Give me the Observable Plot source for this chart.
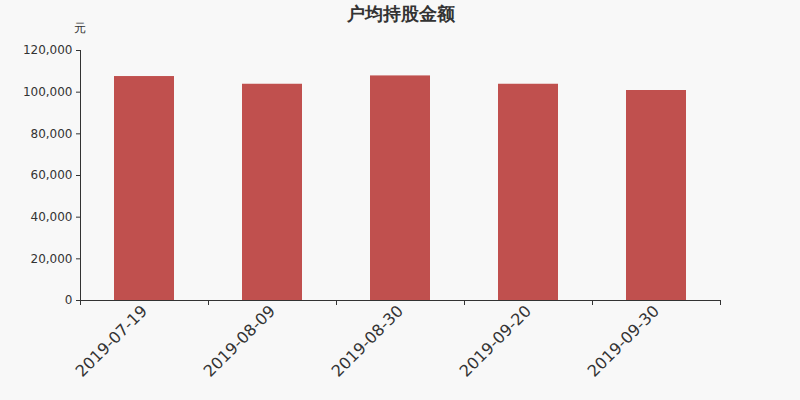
<!DOCTYPE html>
<html>
<head>
<meta charset="utf-8">
<script src="https://cdn.jsdelivr.net/npm/d3@7"></script>
<script src="https://cdn.jsdelivr.net/npm/@observablehq/plot@0.6"></script>
<style>
html,body{margin:0;padding:0;background:#f8f8f8;}
#chart{position:relative;width:800px;height:400px;}
</style>
</head>
<body>
<div id="chart"></div>
<script>
const dates = ["2019-07-19", "2019-08-09", "2019-08-30", "2019-09-20", "2019-09-30"];
const values = [107500, 103800, 107800, 103800, 100800];
const yTicks = [0, 20000, 40000, 60000, 80000, 100000, 120000];
const title = "户均持股金额";
const unit = "元";

const data = dates.map((d, i) => ({date: d, value: values[i]}));
const fmt = d3.format(",");
const font = "DejaVu Sans, sans-serif";

const chart = Plot.plot({
  width: 800,
  height: 400,
  marginTop: 50,
  marginRight: 80,
  marginBottom: 100,
  marginLeft: 80,
  style: {background: "#f8f8f8", fontFamily: font, color: "#333"},
  x: {domain: dates, paddingInner: 0.53125, paddingOuter: 0.265625, label: null},
  y: {domain: [0, 120000], ticks: yTicks, label: null},
  marks: [
    Plot.barY(data, {x: "date", y: "value", fill: "#c0504e"}),
    Plot.axisY({ticks: yTicks, tickFormat: fmt, tickSize: 4, tickPadding: 4, fontSize: 12, stroke: "#333", fill: "#333", label: null}),
    Plot.axisX({tickSize: 0, tickRotate: -45, fontSize: 16, tickPadding: 8, fill: "#333", label: null}),
    Plot.ruleY([0], {stroke: "#333"}),
    Plot.ruleX([dates[0]], {y1: 0, y2: 120000, dx: -64, stroke: "#333"}),
    Plot.ruleX(dates, {y1: 0, y2: -2400, dx: -64, stroke: "#333"}),
    Plot.ruleX([dates[dates.length - 1]], {y1: 0, y2: -2400, dx: 64, stroke: "#333"}),
    Plot.text([title], {frameAnchor: "top", dy: -43, text: d => d, fontSize: 18, fontWeight: "bold", fill: "#333", style: "letter-spacing:2px"}),
    Plot.text([unit], {frameAnchor: "top-left", dy: -27, dx: -1, text: d => d, fontSize: 12, fill: "#333", textAnchor: "middle"})
  ]
});
document.getElementById("chart").appendChild(chart);
</script>
</body>
</html>
